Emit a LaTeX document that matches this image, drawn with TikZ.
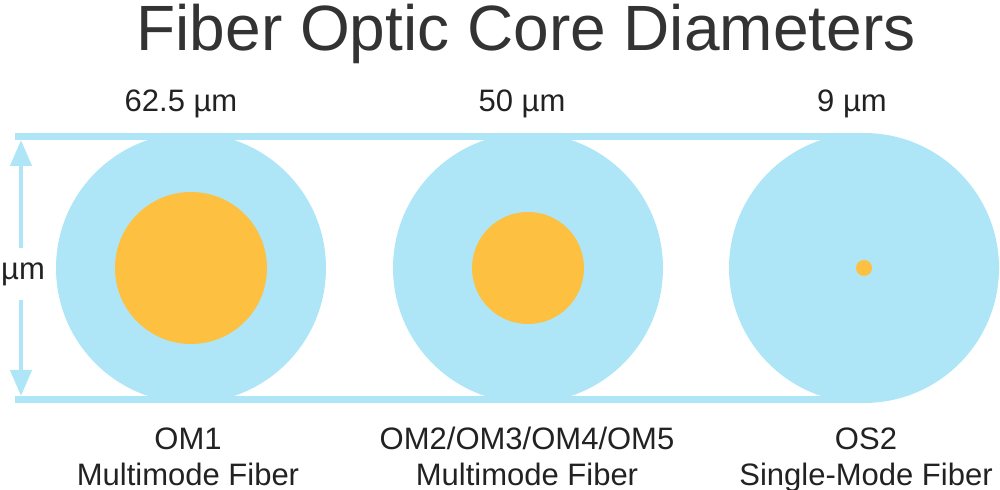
\documentclass[tikz,border=0pt]{standalone}
\usepackage{fontspec}
\setmainfont{Liberation Sans}
\usepackage{xcolor}
\definecolor{Clad}{HTML}{AEE6F8}
\definecolor{Core}{HTML}{FDC040}
\definecolor{Ink}{HTML}{222222}
\definecolor{Heading}{HTML}{333333}
\usetikzlibrary{arrows.meta,positioning,calc}
\tikzset{
  clad/.style={circle,fill=Clad,minimum size=135pt,inner sep=0pt},
  core/.style={circle,fill=Core,inner sep=0pt},
  rail/.style={draw=Clad,line width=3.5pt},
  dimarrow/.style={-{Triangle[width=10.5pt,length=13pt]},line width=2.25pt,color=Clad},
  caption/.style={font=\fontsize{15.5}{18}\selectfont,text=Ink,align=center,inner sep=0pt},
  heading/.style={font=\fontsize{32}{36}\selectfont,text=Heading,inner sep=0pt}
}

\begin{document}
\begin{tikzpicture}[x=0.5pt,y=-0.5pt]
  \useasboundingbox (0,0) rectangle (1000,490);
  % fibres: cladding and core
  \node[clad] (om1) at (191,268) {};
  \node[clad] (om2) at (528,268) {};
  \node[clad] (os2) at (864,268) {};
  \node[core,minimum size=76pt] (om1core) at (om1) {};
  \node[core,minimum size=56pt] (om2core) at (om2) {};
  \node[core,minimum size=8pt] (os2core) at (os2) {};

  % rails above and below
  \coordinate (railtop) at (15,136.5);
  \coordinate (railbot) at (15,399.5);
  \draw[rail] (railtop) -- (railtop -| os2);
  \draw[rail] (railbot) -- (railbot -| os2);

  % outer diameter
  \coordinate (dimtop) at (21,140);
  \coordinate (dimbot) at (21,396);
  \node[caption,minimum height=26pt] (dimlabel) at (23,274) {µm};
  \draw[dimarrow] (dimlabel.north -| dimtop) -- (dimtop);
  \draw[dimarrow] (dimlabel.south -| dimbot) -- (dimbot);

  % texts
  \node[heading,anchor=base] (title) at (526,51) {Fiber Optic Core Diameters};
  \node[caption,anchor=base] (om1size) at (181,112) {62.5 µm};
  \node[caption,anchor=base] (om2size) at (522,112) {50 µm};
  \node[caption,anchor=base] (os2size) at (852,112) {9 µm};
  \node[caption,anchor=north] (om1name) at (188,427) {OM1\\Multimode Fiber};
  \node[caption,anchor=north] (om2name) at (527,427) {OM2/OM3/OM4/OM5\\Multimode Fiber};
  \node[caption,anchor=north] (os2name) at (866,427) {OS2\\Single-Mode Fiber};
\end{tikzpicture}
\end{document}
